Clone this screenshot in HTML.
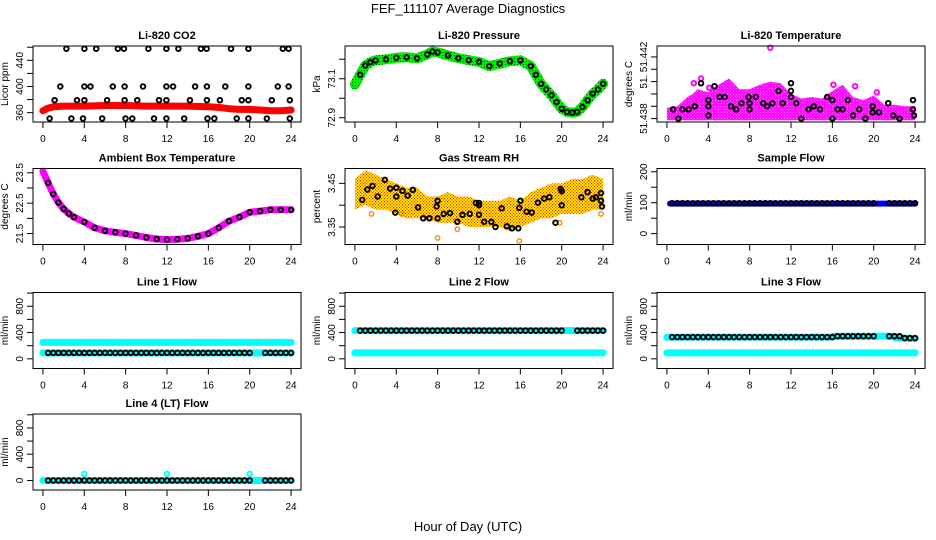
<!DOCTYPE html>
<html><head><meta charset="utf-8"><style>
html,body{margin:0;padding:0;background:#fff;}
svg{display:block;font-family:"Liberation Sans",Arial,sans-serif;}
</style></head><body>
<svg id="chart" width="936" height="540" viewBox="0 0 936 540" xmlns="http://www.w3.org/2000/svg">
<defs>
<pattern id="magPat" width="3" height="3" patternUnits="userSpaceOnUse"><rect width="3" height="3" fill="#ff66ff"/><circle cx="1.5" cy="1.5" r="1.1" fill="none" stroke="#ff00ff" stroke-width="1"/></pattern>
<pattern id="rhPat" width="3" height="3" patternUnits="userSpaceOnUse"><rect width="3" height="3" fill="#ffff00"/><rect x="0" y="0" width="1.2" height="1.2" fill="#ff2000"/><rect x="1.5" y="1.5" width="1.2" height="1.2" fill="#ff2000"/></pattern>
<pattern id="grnPat" width="3" height="3" patternUnits="userSpaceOnUse"><rect width="3" height="3" fill="#00ee00"/><rect x="1" y="1" width="1" height="1" fill="#006600"/></pattern>
</defs>
<text x="468" y="13" text-anchor="middle" font-size="13">FEF_111107  Average Diagnostics</text>
<text x="468" y="531" text-anchor="middle" font-size="13">Hour of Day (UTC)</text>
</svg>
<script>
// ---------- data ----------
const X_TICKS = [0, 4, 8, 12, 16, 20, 24];
const X_TICK_LABELS = ["0", "4", "8", "12", "16", "20", "24"];

const CO2_TICKS = [360, 380, 400, 420, 440, 460];
const CO2_LABELS = ["360", "", "400", "", "440", ""];
const co2RedHours = [0, 0.5, 1, 2, 4, 6, 8, 10, 12, 14, 16, 17, 18, 19, 20, 21, 22, 23, 24];
const co2RedVals = [363, 367, 369, 370, 370, 371, 371, 370, 370, 370, 369, 368, 366, 365, 365, 364, 363, 363, 364];
const co2HighHours = [2.27, 4.01, 5.15, 7.25, 7.83, 10.2, 11.94, 13.1, 15.28, 15.83, 18.19, 19.87, 23.2, 23.76];
const co2HighVal = 457.8;
const co2MidHours = [1.68, 4.01, 4.6, 6.76, 7.9, 9.68, 11.94, 12.59, 14.72, 15.86, 17.64, 19.87, 22.72, 23.76];
const co2MidVal = 400;
const co2LowHours = [1.13, 3.3, 4.01, 6.21, 7.9, 9.13, 11.23, 11.94, 14.21, 15.86, 17.12, 19.22, 19.87, 22.14, 23.88];
const co2LowVal = 379;
const co2BotHours = [0.65, 2.75, 3.88, 5.73, 7.99, 8.64, 10.74, 11.94, 13.66, 15.92, 16.57, 18.74, 19.87, 21.65, 23.88];
const co2BotVal = 351;

const PRES_TICKS = [72.9, 73.0, 73.1, 73.2];
const PRES_LABELS = ["72.9", "", "73.1", ""];
const presHours = [0, 0.5, 1, 1.5, 2, 3, 4, 5, 6, 7, 7.5, 8, 9, 10, 11, 12, 13, 14, 15, 16, 17, 17.5, 18, 18.5, 19, 19.5, 20, 20.5, 21, 21.5, 22, 22.5, 23, 23.5, 24];
const presVals = [73.07, 73.12, 73.168, 73.185, 73.194, 73.2, 73.208, 73.21, 73.205, 73.225, 73.24, 73.235, 73.22, 73.206, 73.195, 73.186, 73.165, 73.177, 73.19, 73.194, 73.165, 73.12, 73.074, 73.045, 73.015, 72.98, 72.946, 72.93, 72.926, 72.93, 72.955, 72.99, 73.023, 73.045, 73.074];

const TEMP_TICKS = [51.438, 51.4388, 51.4396, 51.4404, 51.4412, 51.442];
const TEMP_LABELS = ["51.438", "", "", "51.", "", "51.442"];
const tempCloudHours = [0, 1, 2, 2.5, 3, 4, 5, 6, 7, 8, 9, 10, 11, 12, 13, 14, 15, 16, 17, 18, 19, 20, 21, 22, 23, 24];
const tempCloudHigh = [51.4387, 51.4388, 51.4394, 51.4396, 51.4399, 51.4397, 51.4402, 51.4406, 51.4399, 51.4399, 51.4402, 51.4404, 51.4403, 51.4396, 51.4393, 51.4394, 51.4393, 51.4398, 51.4402, 51.4394, 51.4392, 51.4395, 51.4389, 51.4389, 51.4388, 51.4388];
const tempCloudLow = [51.4379, 51.4379, 51.4379, 51.4379, 51.4379, 51.4379, 51.4379, 51.4379, 51.4379, 51.4379, 51.4379, 51.4379, 51.4379, 51.4379, 51.4379, 51.4379, 51.4379, 51.4379, 51.4379, 51.4379, 51.4379, 51.4379, 51.4379, 51.4379, 51.4379, 51.4379];
const tempMagOutHours = [3.3, 10.0, 2.6, 18.2, 20.3, 4.1, 16.1];
const tempMagOutVals = [51.4406, 51.4426, 51.4403, 51.4401, 51.4397, 51.4400, 51.4402];
const tempBlackHours = [0.6, 1.1, 1.5, 2.1, 2.7, 3.3, 4, 4, 4, 4.6, 5.1, 5.6, 6.2, 6.7, 7.2, 7.9, 8, 8, 8.6, 9.3, 9.7, 10.2, 10.8, 11.2, 12, 12, 12, 12.5, 13, 13.7, 14.2, 14.8, 15.5, 16, 16, 16.5, 17, 17.5, 18, 18.6, 19.2, 19.9, 19.9, 20.5, 21.4, 21.9, 22.5, 23.8, 23.8, 23.9];
const tempBlackVals = [51.4386, 51.4380, 51.4386, 51.4386, 51.4388, 51.4403, 51.4392, 51.4388, 51.4382, 51.4401, 51.4394, 51.4394, 51.4388, 51.4386, 51.4390, 51.4394, 51.4390, 51.4386, 51.4394, 51.4390, 51.4388, 51.4390, 51.4398, 51.4390, 51.4403, 51.4398, 51.4394, 51.4390, 51.4380, 51.4386, 51.4388, 51.4386, 51.4394, 51.4392, 51.4380, 51.4386, 51.4386, 51.4392, 51.4382, 51.4386, 51.4380, 51.4388, 51.4384, 51.4384, 51.4390, 51.4382, 51.4380, 51.4392, 51.4386, 51.4382];

const AMB_TICKS = [21.5, 22, 22.5, 23, 23.5];
const AMB_LABELS = ["21.5", "", "22.5", "", "23.5"];
const ambHours = [0, 0.5, 1, 1.5, 2, 2.5, 3, 4, 5, 6, 7, 8, 9, 10, 11, 12, 13, 14, 15, 16, 17, 18, 19, 20, 21, 22, 23, 24];
const ambVals = [23.55, 23.17, 22.8, 22.52, 22.31, 22.16, 22.04, 21.88, 21.69, 21.59, 21.54, 21.5, 21.44, 21.37, 21.32, 21.3, 21.31, 21.34, 21.41, 21.5, 21.69, 21.91, 22.04, 22.2, 22.24, 22.28, 22.28, 22.28];

const RH_TICKS = [3.35, 3.40, 3.45];
const RH_LABELS = ["3.35", "", "3.45"];
const rhCloudHours = [0, 1, 2, 3, 4, 5, 6, 7, 8, 9, 10, 11, 12, 13, 14, 15, 16, 17, 18, 19, 20, 21, 22, 23, 24];
const rhCloudLow = [3.39, 3.40, 3.39, 3.39, 3.38, 3.37, 3.37, 3.37, 3.36, 3.36, 3.36, 3.35, 3.35, 3.35, 3.35, 3.34, 3.35, 3.36, 3.37, 3.37, 3.38, 3.38, 3.38, 3.39, 3.39];
const rhCloudHigh = [3.46, 3.48, 3.47, 3.46, 3.45, 3.44, 3.44, 3.42, 3.42, 3.43, 3.42, 3.42, 3.41, 3.41, 3.41, 3.42, 3.41, 3.43, 3.44, 3.45, 3.45, 3.46, 3.46, 3.47, 3.46];
const rhOutHours = [8, 15.9, 4.5, 9.9, 19.8, 23.8, 1.6];
const rhOutVals = [3.325, 3.318, 3.38, 3.345, 3.36, 3.38, 3.38];
const rhBlackHours = [0.7, 1.2, 1.7, 2.2, 2.9, 3.4, 3.9, 4, 4, 4.6, 5.1, 5.6, 6.1, 6.6, 7.2, 7.9, 8, 8, 8.6, 9.2, 9.9, 10.4, 11.1, 11.7, 12, 12, 12, 12.5, 13.2, 13.6, 14.2, 14.7, 15.2, 15.8, 15.9, 16, 16.6, 17.1, 17.7, 18.3, 18.8, 19.4, 19.9, 20, 20, 21.9, 22.5, 23, 23.3, 23.8, 23.8, 23.9];
const rhBlackVals = [3.412, 3.436, 3.444, 3.42, 3.458, 3.438, 3.383, 3.42, 3.44, 3.433, 3.422, 3.435, 3.395, 3.37, 3.37, 3.397, 3.37, 3.41, 3.38, 3.382, 3.362, 3.378, 3.38, 3.405, 3.405, 3.40, 3.378, 3.362, 3.362, 3.35, 3.393, 3.352, 3.347, 3.347, 3.394, 3.41, 3.385, 3.383, 3.406, 3.415, 3.418, 3.36, 3.437, 3.40, 3.432, 3.418, 3.43, 3.415, 3.418, 3.428, 3.41, 3.397];

const FLOW_TICKS = [0, 200, 400, 600, 800, 1000];
const FLOW_LABELS = ["0", "", "400", "", "800", ""];
const SAMP_TICKS = [0, 50, 100, 150, 200];
const SAMP_LABELS = ["0", "", "100", "", "200"];
const flowHours = [0.5, 1, 1.5, 2, 2.5, 3, 3.5, 4, 4.5, 5, 5.5, 6, 6.5, 7, 7.5, 8, 8.5, 9, 9.5, 10, 10.5, 11, 11.5, 12, 12.5, 13, 13.5, 14, 14.5, 15, 15.5, 16, 16.5, 17, 17.5, 18, 18.5, 19, 19.5, 20, 21.5, 22, 22.5, 23, 23.5, 24];
const sampleBand = [[0.3, 24], [97, 97]];
const sampleBlack = 98;
const line1BandA = [[0, 24], [250, 250]];
const line1BandB = [[0, 24], [90, 90]];
const line1Black = 90;
const line2BandA = [[0, 24], [430, 430]];
const line2BandB = [[0, 24], [90, 90]];
const line2Black = 430;
const line3BandA = [[0, 16, 16.1, 22, 22.1, 24], [330, 330, 345, 345, 320, 310]];
const line3BandB = [[0, 24], [90, 90]];
const line3BlackHours = [[0.5, 1, 1.5, 2, 2.5, 3, 3.5, 4, 4.5, 5, 5.5, 6, 6.5, 7, 7.5, 8, 8.5, 9, 9.5, 10, 10.5, 11, 11.5, 12, 12.5, 13, 13.5, 14, 14.5, 15, 15.5, 16], [16.5, 17, 17.5, 18, 18.5, 19, 19.5, 20, 21.5, 22, 22.5], [23, 23.5, 24]];
const line3BlackVals = [330, 345, 315];
const line4Band = [[0, 24], [0, 0]];
const line4Black = 0;
const line4SpikeHours = [4, 12, 20];
const line4SpikeVal = 100;

// ---------- layout ----------
const COL_X = [33, 345, 657];
const ROW_Y = [46, 168.5, 292.5, 414];
const BW = 268, BH = 76;
const XDOM = [-0.96, 24.96];
const svg = document.getElementById('chart');
const NS = 'http://www.w3.org/2000/svg';

function mk(tag, attrs, parent) {
  const e = document.createElementNS(NS, tag);
  for (const k in attrs) e.setAttribute(k, attrs[k]);
  (parent || svg).appendChild(e);
  return e;
}

function panel(key, col, row, title, ylab, ylim, ticks, labels) {
  const x0 = COL_X[col], y0 = ROW_Y[row];
  const g = mk('g', {});
  
  
  const sx = h => x0 + (h - XDOM[0]) / (XDOM[1] - XDOM[0]) * BW;
  const sy = v => y0 + BH - (v - ylim[0]) / (ylim[1] - ylim[0]) * BH;
  const t = mk('text', {x: x0 + BW / 2, y: y0 - 7, 'text-anchor': 'middle', 'font-size': 11, 'font-weight': 'bold'}, g);
  t.textContent = title;
  
  
  const yl = mk('text', {x: 0, y: 0, 'text-anchor': 'middle', 'font-size': 10, transform: 'translate(' + (x0 - 25) + ',' + (y0 + BH / 2) + ') rotate(-90)'}, g);
  yl.textContent = ylab;
  
  
  const plot = mk('g', {}, g);
  
  
  const axes = mk('g', {stroke: '#000', 'stroke-width': 1, fill: 'none'}, g);
  
  
  const box = mk('rect', {x: x0, y: y0, width: BW, height: BH}, axes);
  
  
  mk('line', {x1: sx(0), x2: sx(24), y1: y0 + BH, y2: y0 + BH}, axes);
  X_TICKS.forEach((h, i) => {
    mk('line', {x1: sx(h), x2: sx(h), y1: y0 + BH, y2: y0 + BH + 6}, axes);
    const lt = mk('text', {x: sx(h), y: y0 + BH + 20, 'text-anchor': 'middle', 'font-size': 10, fill: '#000', stroke: 'none'}, g);
    lt.textContent = X_TICK_LABELS[i];
    
    
  });
  mk('line', {x1: x0, x2: x0, y1: sy(ticks[0]), y2: sy(ticks[ticks.length - 1])}, axes);
  ticks.forEach((v, i) => {
    mk('line', {x1: x0 - 6, x2: x0, y1: sy(v), y2: sy(v)}, axes);
    if (labels[i]) {
      const lt = mk('text', {x: 0, y: 0, 'text-anchor': 'middle', 'font-size': 10, transform: 'translate(' + (x0 - 10) + ',' + sy(v) + ') rotate(-90)'}, g);
      lt.textContent = labels[i];
      
      
    }
  });
  return {sx, sy, plot, key};
}

function band(p, hours, vals, color, width, name) {
  const d = hours.map((h, i) => (i ? 'L' : 'M') + p.sx(h).toFixed(1) + ',' + p.sy(vals[i]).toFixed(1)).join('');
  const e = mk('path', {d: d, fill: 'none', stroke: color, 'stroke-width': width, 'stroke-linecap': 'round', 'stroke-linejoin': 'round'}, p.plot);
  
  
}
function cloud(p, hours, low, high, fill, name) {
  let d = hours.map((h, i) => (i ? 'L' : 'M') + p.sx(h).toFixed(1) + ',' + p.sy(high[i]).toFixed(1)).join('');
  for (let i = hours.length - 1; i >= 0; i--) d += 'L' + p.sx(hours[i]).toFixed(1) + ',' + p.sy(low[i]).toFixed(1);
  const e = mk('path', {d: d + 'Z', fill: fill, stroke: 'none'}, p.plot);
  
  
}
function points(p, hours, vals, color, name, r, sw) {
  const g = mk('g', {fill: 'none', stroke: color, 'stroke-width': sw || 1.9}, p.plot);
  
  
  hours.forEach((h, i) => {
    const v = Array.isArray(vals) ? vals[i] : vals;
    const c = mk('circle', {cx: p.sx(h).toFixed(1), cy: p.sy(v).toFixed(1), r: r || 2.3}, g);
    
    
  });
}

// CO2
let p = panel('co2', 0, 0, 'Li-820 CO2', 'Licor ppm', [345.7, 461.9], CO2_TICKS, CO2_LABELS);
band(p, co2RedHours, co2RedVals, '#ff0000', 7, 'co2-red-series');
points(p, co2HighHours, co2HighVal, '#000', 'co2-black-high');
points(p, co2MidHours, co2MidVal, '#000', 'co2-black-400');
points(p, co2LowHours, co2LowVal, '#000', 'co2-black-380');
points(p, co2BotHours, co2BotVal, '#000', 'co2-black-low');

// Pressure
p = panel('pressure', 1, 0, 'Li-820 Pressure', 'kPa', [72.878, 73.268], PRES_TICKS, PRES_LABELS);
band(p, presHours, presVals, 'url(#grnPat)', 10, 'pressure-green-series');
points(p, presHours.slice(1), presVals.slice(1), '#000', 'pressure-black-series');

// Temperature
p = panel('temperature', 2, 0, 'Li-820 Temperature', 'degrees C', [51.43778, 51.44271], TEMP_TICKS, TEMP_LABELS);
cloud(p, tempCloudHours, tempCloudLow, tempCloudHigh, 'url(#magPat)', 'temperature-magenta-cloud');
points(p, tempMagOutHours, tempMagOutVals, '#ff00ff', 'temperature-magenta-outliers');
points(p, tempBlackHours, tempBlackVals, '#000', 'temperature-black-series');

// Ambient
p = panel('ambient', 0, 1, 'Ambient Box Temperature', 'degrees C', [21.14, 23.64], AMB_TICKS, AMB_LABELS);
band(p, ambHours, ambVals, '#ff00ff', 7, 'ambient-magenta-series');
points(p, ambHours.slice(1), ambVals.slice(1), '#000', 'ambient-black-series');

// RH
p = panel('rh', 1, 1, 'Gas Stream RH', 'percent', [3.31, 3.484], RH_TICKS, RH_LABELS);
cloud(p, rhCloudHours, rhCloudLow, rhCloudHigh, 'url(#rhPat)', 'rh-orange-cloud');
points(p, rhOutHours, rhOutVals, '#ff8800', 'rh-orange-outliers', 2.2, 1.4);
points(p, rhBlackHours, rhBlackVals, '#000', 'rh-black-series');

// Sample flow
p = panel('sample-flow', 2, 1, 'Sample Flow', 'ml/min', [-35.1, 210.6], SAMP_TICKS, SAMP_LABELS);
band(p, sampleBand[0], sampleBand[1], '#0000ff', 6, 'sample-flow-blue-series');
points(p, flowHours, sampleBlack, '#000', 'sample-flow-black-series');

// Line 1
p = panel('line1', 0, 2, 'Line 1 Flow', 'ml/min', [-147, 1009], FLOW_TICKS, FLOW_LABELS);
band(p, line1BandA[0], line1BandA[1], '#00ffff', 7, 'line1-cyan-upper');
band(p, line1BandB[0], line1BandB[1], '#00ffff', 7, 'line1-cyan-lower');
points(p, flowHours, line1Black, '#000', 'line1-black-series');

// Line 2
p = panel('line2', 1, 2, 'Line 2 Flow', 'ml/min', [-147, 1009], FLOW_TICKS, FLOW_LABELS);
band(p, line2BandA[0], line2BandA[1], '#00ffff', 7, 'line2-cyan-upper');
band(p, line2BandB[0], line2BandB[1], '#00ffff', 7, 'line2-cyan-lower');
points(p, flowHours, line2Black, '#000', 'line2-black-series');

// Line 3
p = panel('line3', 2, 2, 'Line 3 Flow', 'ml/min', [-147, 1009], FLOW_TICKS, FLOW_LABELS);
band(p, line3BandA[0], line3BandA[1], '#00ffff', 7, 'line3-cyan-upper');
band(p, line3BandB[0], line3BandB[1], '#00ffff', 7, 'line3-cyan-lower');
line3BlackHours.forEach((hs, i) => points(p, hs, line3BlackVals[i], '#000', 'line3-black-series'));

// Line 4
p = panel('line4', 0, 3, 'Line 4 (LT) Flow', 'ml/min', [-145, 1012], FLOW_TICKS, FLOW_LABELS);
band(p, line4Band[0], line4Band[1], '#00ffff', 7, 'line4-cyan-series');
points(p, flowHours, line4Black, '#000', 'line4-black-series');
points(p, line4SpikeHours, line4SpikeVal, '#00ffff', 'line4-cyan-spikes');
</script>
</body></html>
